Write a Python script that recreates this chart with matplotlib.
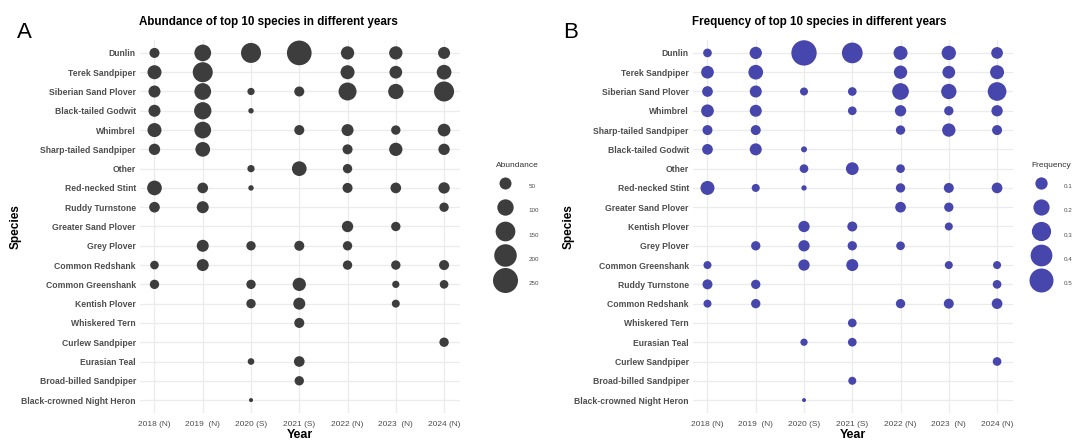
import numpy as np
import matplotlib
matplotlib.use('Agg')
import matplotlib.pyplot as plt

plt.rcParams['font.family'] = ['Liberation Sans', 'DejaVu Sans']

N = np.nan
years = ['2018 (N)', '2019  (N)', '2020 (S)', '2021 (S)', '2022 (N)', '2023  (N)', '2024 (N)']

# Panel A: abundance
species_a = ['Dunlin', 'Terek Sandpiper', 'Siberian Sand Plover', 'Black-tailed Godwit',
             'Whimbrel', 'Sharp-tailed Sandpiper', 'Other', 'Red-necked Stint',
             'Ruddy Turnstone', 'Greater Sand Plover', 'Grey Plover', 'Common Redshank',
             'Common Greenshank', 'Kentish Plover', 'Whiskered Tern', 'Curlew Sandpiper',
             'Eurasian Teal', 'Broad-billed Sandpiper', 'Black-crowned Night Heron']
abundance = [
    [33, 105, 155, 243, 63, 63, 50],
    [71, 155, N, N, 71, 57, 79],
    [50, 105, 15, 33, 123, 86, 155],
    [50, 113, 7, N, N, N, N],
    [71, 105, N, 33, 50, 28, 57],
    [44, 79, N, N, 33, 63, 44],
    [N, N, 15, 79, 28, N, N],
    [79, 38, 7, N, 33, 38, 44],
    [38, 50, N, N, N, N, 28],
    [N, N, N, N, 44, 28, N],
    [N, 50, 28, 33, 28, N, N],
    [23, 50, N, N, 28, 28, 33],
    [28, N, 28, 63, N, 15, 23],
    [N, N, 28, 50, N, 19, N],
    [N, N, N, 33, N, N, N],
    [N, N, N, N, N, N, 28],
    [N, N, 12, 38, N, N, N],
    [N, N, N, 28, N, N, N],
    [N, N, 3, N, N, N, N],
]
abund_breaks = [50, 100, 150, 200, 250]

# Panel B: frequency
species_b = ['Dunlin', 'Terek Sandpiper', 'Siberian Sand Plover', 'Whimbrel',
             'Sharp-tailed Sandpiper', 'Black-tailed Godwit', 'Other', 'Red-necked Stint',
             'Greater Sand Plover', 'Kentish Plover', 'Grey Plover', 'Common Greenshank',
             'Ruddy Turnstone', 'Common Redshank', 'Whiskered Tern', 'Eurasian Teal',
             'Curlew Sandpiper', 'Broad-billed Sandpiper', 'Black-crowned Night Heron']
frequency = [
    [.038, .10, .566, .357, .139, .147, .088],
    [.109, .157, N, N, .123, .109, .139],
    [.069, .094, .030, .038, .215, .174, .281],
    [.109, .094, N, .038, .080, .047, .080],
    [.057, .057, N, N, .047, .123, .057],
    [.069, .094, .011, N, N, N, N],
    [N, N, .038, .109, .038, N, N],
    [.139, .030, .007, N, .047, .057, .069],
    [N, N, N, N, .069, .047, N],
    [N, N, .080, .057, N, .030, N],
    [N, .047, .080, .047, .038, N, N],
    [.030, N, .080, .094, N, .030, .030],
    [.057, .047, N, N, N, N, .038],
    [.030, .047, N, N, .047, .057, .069],
    [N, N, N, .038, N, N, N],
    [N, N, .022, .038, N, N, N],
    [N, N, N, N, N, N, .038],
    [N, N, N, .030, N, N, N],
    [N, N, .0015, N, N, N, N],
]
freq_breaks = [0.1, 0.2, 0.3, 0.4, 0.5]

TXT = '#4d4d4d'


def size_abund(v):
    d = 1.49 + 1.487 * np.sqrt(v)   # diameter in px
    return (d * 0.72) ** 2


def size_freq(v):
    d = 2.84 + 29.9 * np.sqrt(v)
    return (d * 0.72) ** 2


def panel(ax, species, values, breaks, sizefn, color, title_text, leg_title, leg_x,
          title_x, letter, letter_x):
    vals = np.array(values, dtype=float)
    ys, xs = np.nonzero(~np.isnan(vals))
    ax.scatter(xs, ys, s=sizefn(vals[ys, xs]), color=color, linewidths=0, zorder=3)
    ax.set_xticks(range(len(years)))
    ax.set_xticklabels(years, fontsize=6, color=TXT)
    ax.set_yticks(range(len(species)))
    ax.set_yticklabels(species, fontsize=6.2, color=TXT, fontweight='bold')
    ax.set_xlim(-0.3, 6.33)
    ax.set_ylim(len(species) - 1 + 0.67, -0.67)
    ax.tick_params(length=0, pad=3)
    ax.tick_params(axis='x', pad=6)
    for sp in ax.spines.values():
        sp.set_visible(False)
    ax.grid(color='#ebebeb', linewidth=0.9)
    ax.set_axisbelow(True)
    ax.set_xlabel('Year', fontsize=9, fontweight='bold')
    ax.xaxis.set_label_coords(0.5, -0.043)
    ax.set_ylabel('Species', fontsize=8.5, fontweight='bold')
    ax.yaxis.set_label_coords(-0.37, 0.5)

    handles = [ax.scatter([], [], s=sizefn(b), color=color, linewidths=0, label=str(b)) for b in breaks]
    leg = ax.legend(handles=handles, title=leg_title, loc='center left', bbox_to_anchor=(leg_x, 0.5),
                    frameon=False, fontsize=4.5, title_fontsize=6, handleheight=3.2,
                    labelspacing=1.55, handlelength=3.2, handletextpad=2.1, borderpad=0)
    for t in leg.get_texts():
        t.set_color(TXT)
    leg.get_title().set_color('#333333')

    fig.text(title_x, 1 - 22 / 440, title_text, fontsize=8.4, fontweight='bold',
             ha='center', va='center')
    fig.text(letter_x, 1 - 32 / 440, letter, fontsize=16, ha='left', va='center')


fig = plt.figure(figsize=(10.9, 4.4), dpi=100)
ax1 = fig.add_axes([140 / 1090, 1 - 413 / 440, 320 / 1090, 373 / 440])
ax2 = fig.add_axes([693 / 1090, 1 - 413 / 440, 320 / 1090, 373 / 440])

panel(ax1, species_a, abundance, abund_breaks, size_abund, '#3d3d3d',
      'Abundance of top 10 species in different years', 'Abundance', 1.10,
      268 / 1090, 'A', 17 / 1090)
panel(ax2, species_b, frequency, freq_breaks, size_freq, '#4646ad',
      'Frequency of top 10 species in different years', 'Frequency', 1.045,
      819 / 1090, 'B', 563 / 1090)

fig.savefig('out.png', dpi=100)
